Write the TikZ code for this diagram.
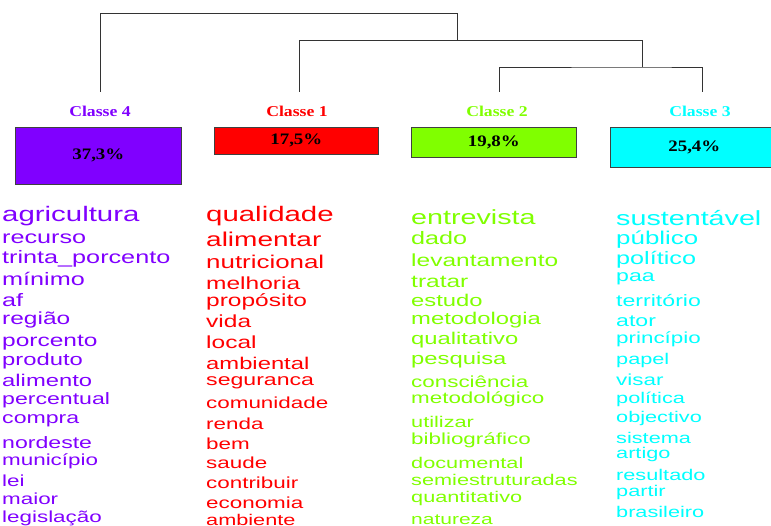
\documentclass[tikz,border=0pt]{standalone}
\usepackage{fontspec}
\newfontfamily\wordfont[FakeStretch=1.4]{Liberation Sans}
\newfontfamily\classfont[FakeStretch=1.18]{Liberation Serif}
\newcommand{\sz}[1]{\fontsize{#1}{#1}\selectfont}
\definecolor{cpurple}{RGB}{128,0,255}
\definecolor{cred}{RGB}{255,0,0}
\definecolor{cgreen}{RGB}{128,255,0}
\definecolor{ccyan}{RGB}{0,255,255}
\tikzset{
  word/.style={anchor=base west, inner sep=0pt, font=\wordfont},
  classe/.style={anchor=base, inner sep=0pt, font=\classfont\bfseries\sz{15}},
  box/.style={draw=black!75, line width=0.7pt, anchor=north west, inner sep=0pt,
    font=\classfont\bfseries\sz{16}},
}
\begin{document}
\begin{tikzpicture}[x=1pt,y=-1pt]
    \useasboundingbox (0,0) rectangle (771,526);
    % dendrogram
    \coordinate (leaf4) at (100,92);
    \coordinate (leaf1) at (299,92);
    \coordinate (leaf2) at (499,92);
    \coordinate (leaf3) at (702,92);
    \coordinate (root) at (457,13);
    \coordinate (mid) at (642,40);
    \coordinate (low) at (642,67);
    \draw[black!80, line width=0.9pt] (leaf4) |- (root) -- (root |- mid);
    \draw[black!80, line width=0.9pt] (leaf1) |- (mid) -- (low);
    \draw[black!80, line width=0.9pt] (leaf2) |- (low) -| (leaf3);
    % classes
    \node[classe, text=cpurple] (lab4) at (100,117) {Classe 4};
    \node[classe, text=cred] (lab1) at (297,117) {Classe 1};
    \node[classe, text=cgreen] (lab2) at (497,117) {Classe 2};
    \node[classe, text=ccyan] (lab3) at (700,117) {Classe 3};
    \node[box, fill=cpurple, minimum width=166, minimum height=57] (box4) at (15,127) {37,3\%};
    \node[box, fill=cred, minimum width=164, minimum height=27] (box1) at (214,127) {17,5\%};
    \node[box, fill=cgreen, minimum width=165, minimum height=30] (box2) at (411,127) {19,8\%};
    \node[box, fill=ccyan, minimum width=168, minimum height=40] (box3) at (610,127) {25,4\%};
    % classe 4
    \node[word, text=cpurple] (agricultura) at (2,222) {\sz{21}agricultura};
    \node[word, text=cpurple] (recurso) at (2,244) {\sz{18}recurso};
    \node[word, text=cpurple] (trinta) at (2,264) {\sz{18}trinta\_porcento};
    \node[word, text=cpurple] (minimo) at (2,286) {\sz{18}mínimo};
    \node[word, text=cpurple] (af) at (2,307) {\sz{18}af};
    \node[word, text=cpurple] (regiao) at (2,325) {\sz{17.5}região};
    \node[word, text=cpurple] (porcento) at (2,347) {\sz{17.5}porcento};
    \node[word, text=cpurple] (produto) at (2,366) {\sz{17}produto};
    \node[word, text=cpurple] (alimento) at (2,387) {\sz{17}alimento};
    \node[word, text=cpurple] (percentual) at (2,405) {\sz{16.5}percentual};
    \node[word, text=cpurple] (compra) at (2,423) {\sz{16.5}compra};
    \node[word, text=cpurple] (nordeste) at (2,448) {\sz{16.5}nordeste};
    \node[word, text=cpurple] (municipio) at (2,465) {\sz{16}município};
    \node[word, text=cpurple] (lei) at (2,486) {\sz{16}lei};
    \node[word, text=cpurple] (maior) at (2,504) {\sz{16}maior};
    \node[word, text=cpurple] (legislacao) at (2,522) {\sz{16}legislação};
    % classe 1
    \node[word, text=cred] (qualidade) at (206,222) {\sz{21}qualidade};
    \node[word, text=cred] (alimentar) at (206,247) {\sz{20}alimentar};
    \node[word, text=cred] (nutricional) at (206,269) {\sz{18.5}nutricional};
    \node[word, text=cred] (melhoria) at (206,290) {\sz{17.5}melhoria};
    \node[word, text=cred] (proposito) at (206,307) {\sz{17.5}propósito};
    \node[word, text=cred] (vida) at (206,328) {\sz{17.5}vida};
    \node[word, text=cred] (local) at (206,349) {\sz{17.5}local};
    \node[word, text=cred] (ambiental) at (206,370) {\sz{17}ambiental};
    \node[word, text=cred] (seguranca) at (206,385) {\sz{16.5}seguranca};
    \node[word, text=cred] (comunidade) at (206,408) {\sz{16}comunidade};
    \node[word, text=cred] (renda) at (206,429) {\sz{16}renda};
    \node[word, text=cred] (bem) at (206,449) {\sz{16}bem};
    \node[word, text=cred] (saude) at (206,468) {\sz{16}saude};
    \node[word, text=cred] (contribuir) at (206,488) {\sz{16}contribuir};
    \node[word, text=cred] (economia) at (206,508) {\sz{16}economia};
    \node[word, text=cred] (ambiente) at (206,525) {\sz{15.5}ambiente};
    % classe 2
    \node[word, text=cgreen] (entrevista) at (411,225) {\sz{20.5}entrevista};
    \node[word, text=cgreen] (dado) at (411,245) {\sz{18}dado};
    \node[word, text=cgreen] (levantamento) at (411,267) {\sz{17.5}levantamento};
    \node[word, text=cgreen] (tratar) at (411,288) {\sz{17.5}tratar};
    \node[word, text=cgreen] (estudo) at (411,307) {\sz{17}estudo};
    \node[word, text=cgreen] (metodologia) at (411,325) {\sz{17}metodologia};
    \node[word, text=cgreen] (qualitativo) at (411,345) {\sz{17}qualitativo};
    \node[word, text=cgreen] (pesquisa) at (411,365) {\sz{17}pesquisa};
    \node[word, text=cgreen] (consciencia) at (411,388) {\sz{16}consciência};
    \node[word, text=cgreen] (metodologico) at (411,403) {\sz{16}metodológico};
    \node[word, text=cgreen] (utilizar) at (411,427) {\sz{15.5}utilizar};
    \node[word, text=cgreen] (bibliografico) at (411,444) {\sz{16}bibliográfico};
    \node[word, text=cgreen] (documental) at (411,468) {\sz{15.5}documental};
    \node[word, text=cgreen] (semiestruturadas) at (411,485) {\sz{15.5}semiestruturadas};
    \node[word, text=cgreen] (quantitativo) at (411,502) {\sz{15.5}quantitativo};
    \node[word, text=cgreen] (natureza) at (411,524) {\sz{15}natureza};
    % classe 3
    \node[word, text=ccyan] (sustentavel) at (616,226) {\sz{20.5}sustentável};
    \node[word, text=ccyan] (publico) at (616,245) {\sz{18.5}público};
    \node[word, text=ccyan] (politico) at (616,265) {\sz{18}político};
    \node[word, text=ccyan] (paa) at (616,282) {\sz{16.5}paa};
    \node[word, text=ccyan] (territorio) at (616,307) {\sz{16.5}território};
    \node[word, text=ccyan] (ator) at (616,327) {\sz{16.5}ator};
    \node[word, text=ccyan] (principio) at (616,344) {\sz{16}princípio};
    \node[word, text=ccyan] (papel) at (616,365) {\sz{15.5}papel};
    \node[word, text=ccyan] (visar) at (616,386) {\sz{16}visar};
    \node[word, text=ccyan] (politica) at (616,403) {\sz{15.5}política};
    \node[word, text=ccyan] (objectivo) at (616,422) {\sz{15.5}objectivo};
    \node[word, text=ccyan] (sistema) at (616,443) {\sz{15.5}sistema};
    \node[word, text=ccyan] (artigo) at (616,458) {\sz{15.5}artigo};
    \node[word, text=ccyan] (resultado) at (616,480) {\sz{15.5}resultado};
    \node[word, text=ccyan] (partir) at (616,496) {\sz{15.5}partir};
    \node[word, text=ccyan] (brasileiro) at (616,517) {\sz{15.5}brasileiro};
\end{tikzpicture}
\end{document}
